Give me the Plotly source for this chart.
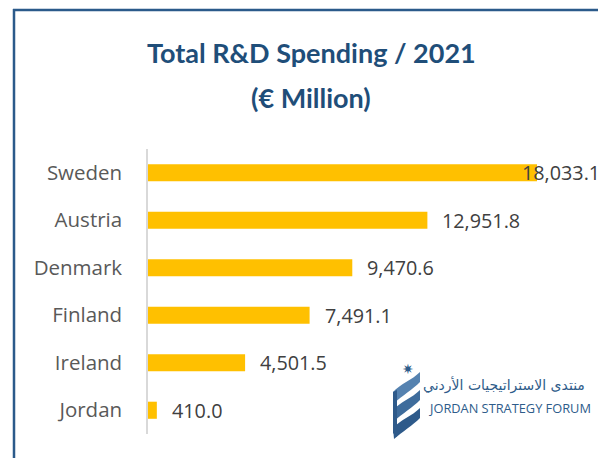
import plotly.graph_objects as go

countries = ["Sweden", "Austria", "Denmark", "Finland", "Ireland", "Jordan"]
spending = [18033.1, 12951.8, 9470.6, 7491.1, 4501.5, 410.0]
labels = ["18,033.1", "12,951.8", "9,470.6", "7,491.1", "4,501.5", "410.0"]

OFF = 8  # page body margin
W, H = 606 - OFF, 458 - OFF
ML, MR, MT, MB = 148 - OFF, 0, 149 - OFF, 24
PW = W - ML - MR
PH = H - MT - MB
XMAX = 18033.1 * PW / 389.0

def px(x):  # reference-screen pixel -> paper
    return (x - OFF - ML) / PW

def py(y):
    return (H - MB - (y - OFF)) / PH

fig = go.Figure()
fig.add_trace(go.Bar(
    y=countries, x=spending, orientation="h",
    marker=dict(color="#FFC000", line=dict(width=0)),
    width=0.36, hoverinfo="skip",
))

annotations = []
for c, v, t in zip(countries, spending, labels):
    if c == "Sweden":
        annotations.append(dict(x=px(602), y=c, xref="paper", yref="y", text=t, showarrow=False,
                                xanchor="right",
                                font=dict(family="Open Sans", size=19.8, color="#404040")))
    else:
        annotations.append(dict(x=v, y=c, xref="x", yref="y", text=t, showarrow=False,
                                xanchor="left", xshift=13,
                                font=dict(family="Open Sans", size=19.8, color="#404040")))

title_font = dict(family="Lato", size=27, color="#1F4E79")
annotations.append(dict(x=px(311), y=py(52), xref="paper", yref="paper", showarrow=False,
                        text="<b>Total R&amp;D Spending / 2021</b>", font=title_font,
                        xanchor="center", yanchor="middle"))
annotations.append(dict(x=px(311), y=py(97), xref="paper", yref="paper", showarrow=False,
                        text="<b>(€ Million)</b>", font=title_font,
                        xanchor="center", yanchor="middle"))
# logo text
annotations.append(dict(x=px(587), y=py(385), xref="paper", yref="paper", showarrow=False,
                        text="منتدى الاستراتيجيات الأردني",
                        font=dict(family="DejaVu Sans", size=14, color="#2E5C8A"),
                        xanchor="right", yanchor="middle"))
annotations.append(dict(x=px(426), y=py(408), xref="paper", yref="paper", showarrow=False,
                        text="JORDAN STRATEGY FORUM",
                        font=dict(family="Open Sans", size=12.8, color="#2E5C8A"),
                        xanchor="left", yanchor="middle"))
annotations.append(dict(x=px(408), y=py(369), xref="paper", yref="paper", showarrow=False,
                        text="✷", font=dict(family="DejaVu Sans", size=14, color="#2E5C8A"),
                        xanchor="center", yanchor="middle"))

shapes = [
    dict(type="line", xref="paper", yref="paper", x0=px(14), x1=px(14), y0=py(9), y1=py(470),
         line=dict(color="#2B5A8A", width=2.5)),
    dict(type="line", xref="paper", yref="paper", x0=px(13), x1=px(620), y0=py(10), y1=py(10),
         line=dict(color="#2B5A8A", width=2.5)),
]
# emblem ribbons
for i, s in enumerate([376, 394, 412]):
    path = (f"M {px(393)},{py(s+16)} C {px(400)},{py(s+8)} {px(412)},{py(s+4)} {px(420)},{py(s-4)} "
            f"L {px(420)},{py(s+6)} C {px(413)},{py(s+13)} {px(402)},{py(s+20)} {px(394)},{py(s+27)} Z")
    shapes.append(dict(type="path", xref="paper", yref="paper", path=path,
                       fillcolor=["#5582B0", "#3E6C9C", "#2E5A8A"][i], line=dict(width=0)))
shapes.append(dict(type="path", xref="paper", yref="paper",
                   path=f"M {px(393)},{py(392)} L {px(397)},{py(390)} L {px(397)},{py(437)} L {px(393)},{py(433)} Z",
                   fillcolor="#2E5A8A", line=dict(width=0)))

fig.update_layout(
    width=W, height=H,
    margin=dict(l=ML, r=MR, t=MT, b=MB, pad=0),
    paper_bgcolor="white", plot_bgcolor="white",
    showlegend=False,
    annotations=annotations,
    shapes=shapes,
    xaxis=dict(range=[0, XMAX], visible=False, fixedrange=True),
    yaxis=dict(categoryorder="array", categoryarray=countries, autorange="reversed",
               showline=True, linecolor="#D9D9D9", linewidth=1.5, showgrid=False,
               ticks="", ticklabelstandoff=20,
               tickfont=dict(family="Open Sans", size=20.5, color="#595959")),
)

fig.write_html("out.html")
